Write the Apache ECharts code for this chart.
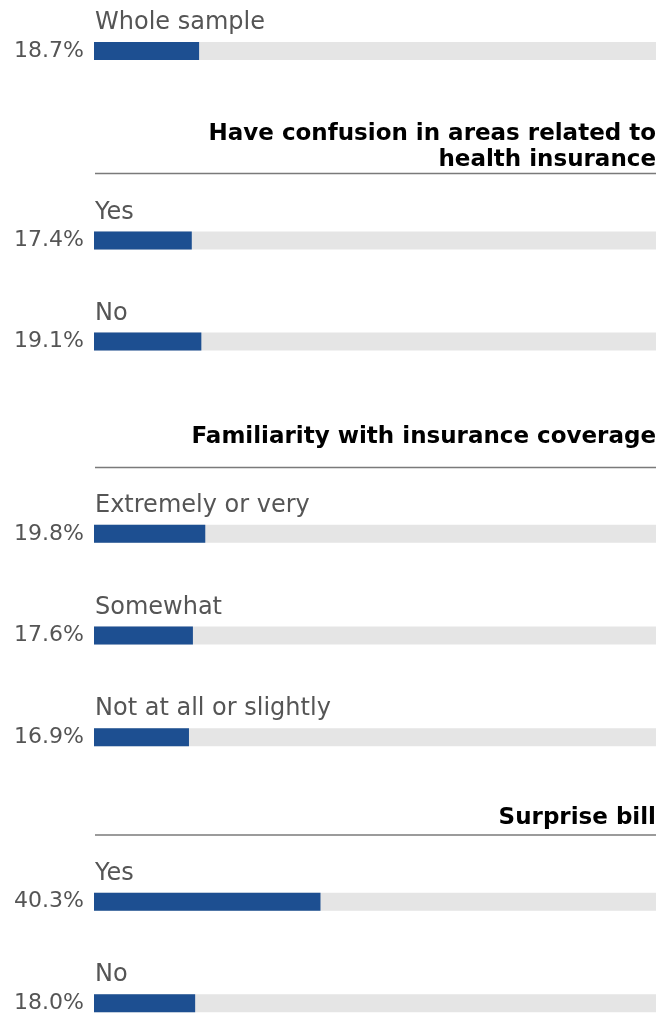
<!DOCTYPE html>
<html>
<head>
<meta charset="utf-8">
<script src="https://cdn.jsdelivr.net/npm/echarts@6/dist/echarts.min.js"></script>
<style>
  html, body { margin: 0; padding: 0; background: #fff; overflow: hidden; }
  /* the canvas runs a little past the bottom of the window so the last row keeps its spacing */
  #chart { width: 661px; height: 1060px; }
</style>
</head>
<body>
<div id="chart"></div>
<script>
// Share of respondents, by group (percent)
const wholeCategories = ['Whole sample'];
const wholeValues = [18.7];

const confusionTitle = 'Have confusion in areas related to\nhealth insurance';
const confusionCategories = ['Yes', 'No'];
const confusionValues = [17.4, 19.1];

const familiarityTitle = 'Familiarity with insurance coverage';
const familiarityCategories = ['Extremely or very', 'Somewhat', 'Not at all or slightly'];
const familiarityValues = [19.8, 17.6, 16.9];

const surpriseTitle = 'Surprise bill';
const surpriseCategories = ['Yes', 'No'];
const surpriseValues = [40.3, 18.0];

// each block: rows of ~101px
const groups = [
  { cats: wholeCategories, vals: wholeValues, top: 1, height: 100 },
  { cats: confusionCategories, vals: confusionValues, top: 190, height: 202 },
  { cats: familiarityCategories, vals: familiarityValues, top: 483, height: 305 },
  { cats: surpriseCategories, vals: surpriseValues, top: 851, height: 203 }
];

const FONT = '"DejaVu Sans", Verdana, sans-serif';
const BAR = '#1d4f91';
const TRACK = '#e5e5e5';
const TEXT = '#555555';
const LEFT = 94, RIGHT = 5;

const grid = [], xAxis = [], yAxis = [], series = [];
groups.forEach((g, i) => {
  grid.push({ left: LEFT, right: RIGHT, top: g.top, height: g.height, containLabel: false });
  xAxis.push({ type: 'value', gridIndex: i, min: 0, max: 100, show: false });
  yAxis.push({
    type: 'category', gridIndex: i, data: g.cats, inverse: true,
    axisLine: { show: false }, axisTick: { show: false }, splitLine: { show: false },
    axisLabel: {
      margin: 10, fontFamily: FONT, fontSize: 22, fontWeight: 'normal', color: TEXT,
      padding: [8, 0, 0, 0],
      formatter: (v, idx) => g.vals[idx].toFixed(1) + '%'
    }
  });
  series.push({
    type: 'bar', xAxisIndex: i, yAxisIndex: i, data: g.vals,
    barWidth: 18, silent: true,
    itemStyle: { color: BAR },
    showBackground: true,
    backgroundStyle: { color: TRACK },
    label: {
      show: true, position: [1, -7], align: 'left', verticalAlign: 'bottom',
      fontFamily: FONT, fontSize: 24, fontWeight: 'normal', color: TEXT,
      formatter: p => g.cats[p.dataIndex]
    }
  });
});

const headerFont = 'bold 23px ' + FONT;
const rule = y => ({
  type: 'line', silent: true,
  shape: { x1: 95, y1: y, x2: 656, y2: y },
  style: { stroke: '#7a7a7a', lineWidth: 1.3 }
});
const header = (text, y) => ({
  type: 'text', silent: true, x: 656, y: y,
  style: { text: text, textAlign: 'right', textVerticalAlign: 'bottom', font: headerFont, fill: '#000', lineHeight: 26 }
});

const chart = echarts.init(document.getElementById('chart'), null, { renderer: 'canvas' });
chart.setOption({
  animation: false,
  grid, xAxis, yAxis, series,
  graphic: [
    header(confusionTitle, 173), rule(173.5),
    header(familiarityTitle, 450), rule(467.5),
    header(surpriseTitle, 831), rule(835)
  ]
});
</script>
</body>
</html>
